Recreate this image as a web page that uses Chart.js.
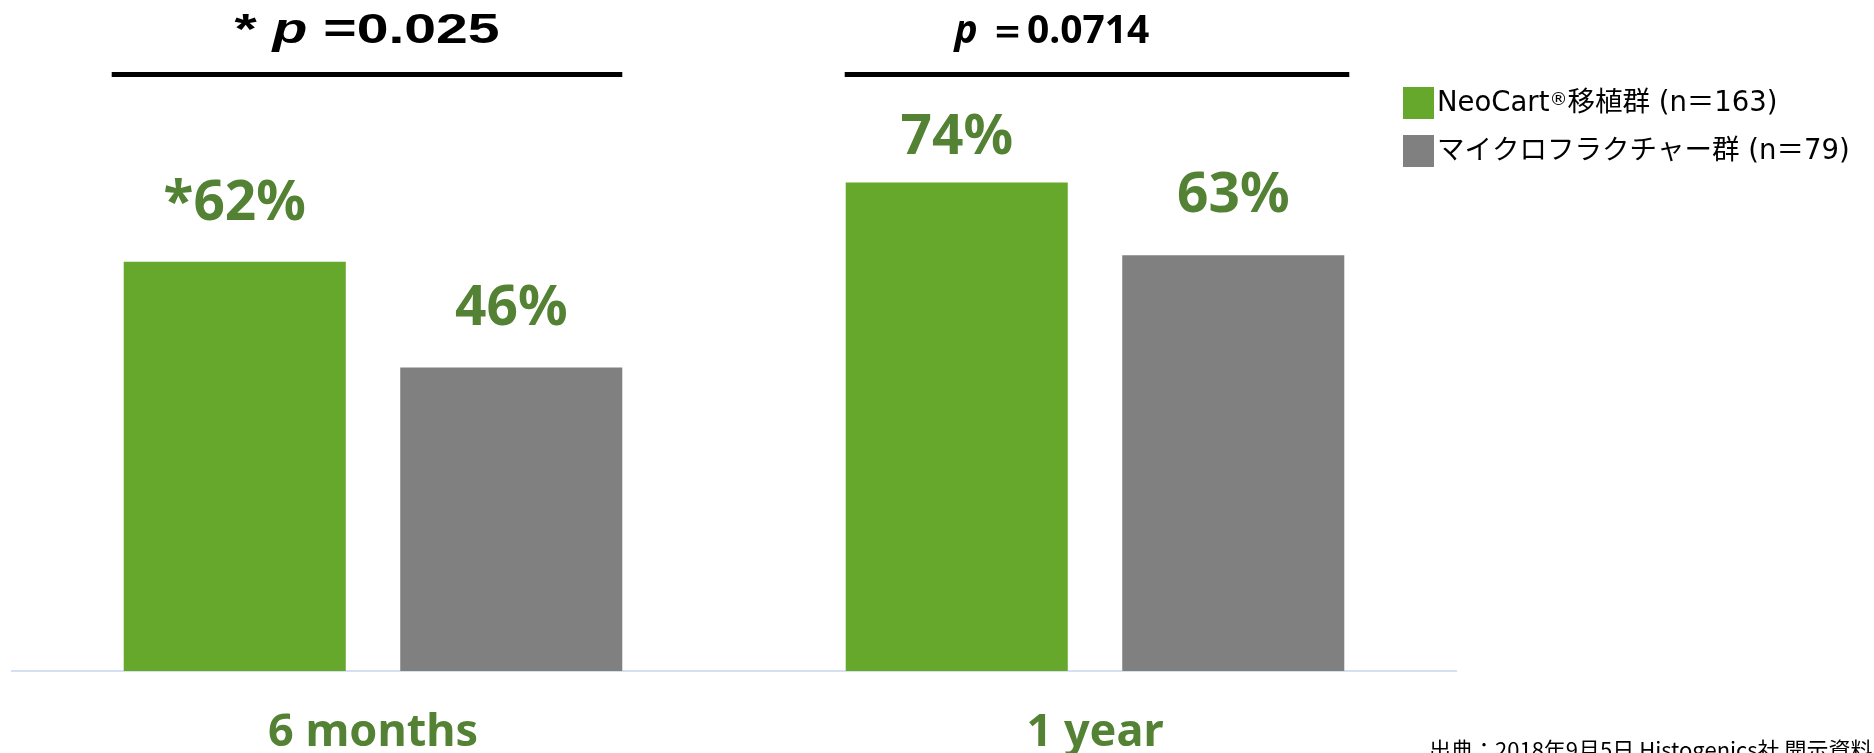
<!DOCTYPE html>
<html lang="ja">
<head>
<meta charset="utf-8">
<script src="https://cdn.jsdelivr.net/npm/chart.js@4.4.1/dist/chart.umd.min.js"></script>
<style>
    html, body { margin: 0; padding: 0; background: #fff; }
    #contenedor { width: 1874px; height: 753px; position: relative; }
</style>
</head>
<body>
<div id="contenedor"><canvas id="grafica"></canvas></div>
<script>
// datos de la gráfica
const periodos = ['6 months', '1 year'];
const grupos = ['NeoCart®移植群 (n＝163)', 'マイクロフラクチャー群 (n＝79)'];
const valores_neocart = [62, 74]; // %
const valores_micro = [46, 63]; // %
const marcas_neocart = ['*', '']; // asterisco delante del porcentaje
const marcas_micro = ['', ''];
const prefijos_p = ['* ', ''];
const valores_p = ['=0.025', '＝0.0714'];
const fuente_nota = '出典：2018年9月5日 Histogenics社 開示資料';

const verde = '#65A82B';
const gris = '#808080';
const verde_oscuro = '#548235';

// separación entre la barra y su porcentaje
const separacion = [[42, 29], [42, 43]];
// estilo de los textos p de cada grupo
const estilo_p = [
    { familia: '"Liberation Sans", Arial', tam: 42, escala: 1.36, base: 43, dx: 0, izq: -12, der: 0 },
    { familia: '"Noto Sans"', tam: 39, escala: 1.0, base: 43, dx: -45, izq: -1, der: 5 }
];

//porcentajes encima de cada barra
const etiquetasValor = {
    id: 'etiquetasValor',
    afterDatasetsDraw(chart) {
        const ctx = chart.ctx;
        const marcas = [marcas_neocart, marcas_micro];
        ctx.save();
        ctx.font = 'bold 55px "Noto Sans"';
        ctx.fillStyle = verde_oscuro;
        ctx.textAlign = 'center';
        ctx.textBaseline = 'alphabetic';
        chart.data.datasets.forEach(function(ds, i) {
            chart.getDatasetMeta(i).data.forEach(function(barra, j) {
                ctx.fillText(marcas[i][j] + ds.data[j] + '%', barra.x, barra.y - separacion[i][j]);
            });
        });
        ctx.restore();
    }
};

//líneas y valores p sobre cada par de barras
const lineasP = {
    id: 'lineasP',
    afterDraw(chart) {
        const ctx = chart.ctx;
        const verdes = chart.getDatasetMeta(0).data;
        const grises = chart.getDatasetMeta(1).data;
        ctx.save();
        verdes.forEach(function(barra, i) {
            const e = estilo_p[i];
            const izq = barra.x - barra.width / 2 + e.izq;
            const der = grises[i].x + grises[i].width / 2 + e.der;
            ctx.strokeStyle = '#000';
            ctx.lineWidth = 5;
            ctx.beginPath();
            ctx.moveTo(izq, 74.5);
            ctx.lineTo(der, 74.5);
            ctx.stroke();

            const partes = [
                { t: prefijos_p[i], f: 'bold ' + e.tam + 'px ' + e.familia },
                { t: 'p ', f: 'italic bold ' + e.tam + 'px ' + e.familia },
                { t: valores_p[i], f: 'bold ' + e.tam + 'px ' + e.familia }
            ];
            let ancho = 0;
            partes.forEach(function(p) {
                ctx.font = p.f;
                p.w = ctx.measureText(p.t).width;
                ancho += p.w;
            });
            const centro = (izq + der) / 2 + e.dx;
            ctx.translate(centro, e.base);
            ctx.scale(e.escala, 1);
            let x = -ancho / 2;
            ctx.fillStyle = '#000';
            ctx.textAlign = 'left';
            ctx.textBaseline = 'alphabetic';
            partes.forEach(function(p) {
                ctx.font = p.f;
                ctx.fillText(p.t, x, 0);
                x += p.w;
            });
            ctx.setTransform(1, 0, 0, 1, 0, 0);
        });
        ctx.restore();
    }
};

//leyenda a la derecha y nota de la fuente
const leyenda = {
    id: 'leyenda',
    afterDraw(chart) {
        const ctx = chart.ctx;
        const fuente = '"DejaVu Sans", "Noto Sans CJK JP"';
        ctx.save();
        ctx.textAlign = 'left';
        ctx.textBaseline = 'alphabetic';
        chart.data.datasets.forEach(function(ds, i) {
            const y = 87 + i * 48;
            ctx.fillStyle = ds.backgroundColor;
            ctx.fillRect(1403, y, 31, 32);
            ctx.fillStyle = '#000';
            let x = 1437;
            const trozos = ds.label.split('®');
            trozos.forEach(function(t, k) {
                ctx.font = '27.5px ' + fuente;
                ctx.fillText(t, x, y + 24);
                x += ctx.measureText(t).width;
                if (k < trozos.length - 1) {
                    ctx.font = '18px ' + fuente;
                    ctx.fillText('®', x, y + 18);
                    x += ctx.measureText('®').width;
                }
            });
        });
        ctx.font = '22px "Noto Sans CJK JP"';
        ctx.textBaseline = 'top';
        ctx.fillText(fuente_nota, 1429, 739);
        ctx.restore();
    }
};

let grafica = new Chart(document.getElementById('grafica'), {
    type: 'bar',
    data: {
        labels: periodos,
        datasets: [{
            label: grupos[0],
            data: valores_neocart,
            backgroundColor: verde,
            categoryPercentage: 0.766,
            barPercentage: 0.803
        }, {
            label: grupos[1],
            data: valores_micro,
            backgroundColor: gris,
            categoryPercentage: 0.766,
            barPercentage: 0.803
        }]
    },
    options: {
        responsive: true,
        maintainAspectRatio: false,
        animation: false,
        layout: {
            padding: { top: 11, left: 12, right: 418, bottom: 0 }
        },
        plugins: {
            legend: { display: false },
            tooltip: { enabled: false }
        },
        scales: {
            x: {
                grid: { display: false, drawTicks: false },
                border: { display: true, color: '#D5E0F0', width: 2 },
                ticks: {
                    color: verde_oscuro,
                    font: { family: 'Noto Sans', size: 45, weight: 'bold' },
                    padding: 35,
                    maxRotation: 0,
                    autoSkip: false
                },
                afterFit: function(escala) {
                    escala.height = 82;
                }
            },
            y: {
                display: false,
                min: 0,
                max: 100
            }
        }
    },
    plugins: [etiquetasValor, lineasP, leyenda]
});
</script>
</body>
</html>
